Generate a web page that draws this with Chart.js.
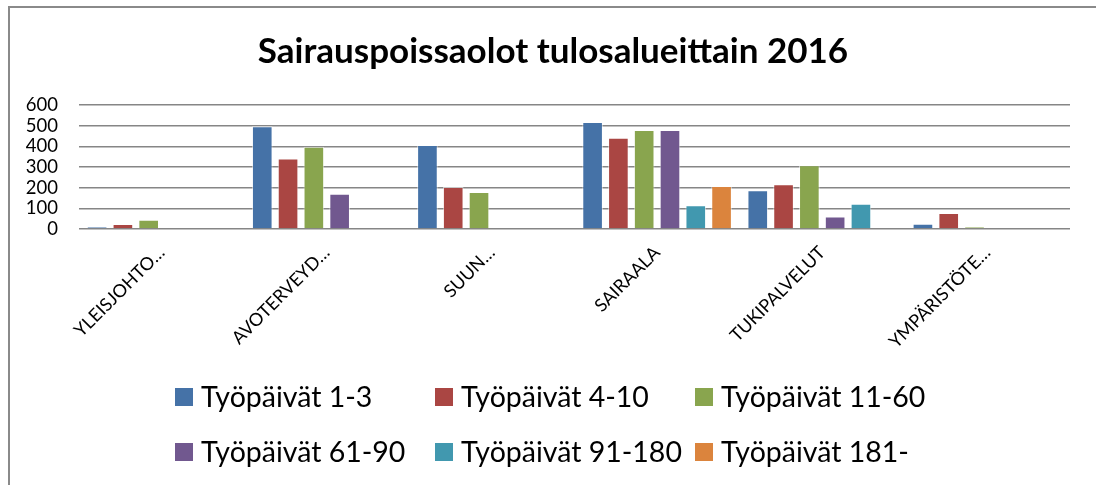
<!DOCTYPE html>
<html><head><meta charset="utf-8">
<script src="https://cdn.jsdelivr.net/npm/chart.js@4"></script>
<style>html,body{margin:0;padding:0;background:#fff;overflow:hidden}</style>
</head><body>
<canvas id="c" width="1096" height="485"></canvas>
<script>
const categories = ['YLEISJOHTO…', 'AVOTERVEYD…', 'SUUN…', 'SAIRAALA', 'TUKIPALVELUT', 'YMPÄRISTÖTE…'];
const seriesNames = ['Työpäivät 1-3', 'Työpäivät 4-10', 'Työpäivät 11-60', 'Työpäivät 61-90', 'Työpäivät 91-180', 'Työpäivät 181-'];
const days1to3    = [11, 497, 406, 518, 187, 26];
const days4to10   = [24, 341, 203, 441, 216, 78];
const days11to60  = [45, 398, 179, 479, 309, 11];
const days61to90  = [null, 171, null, 479, 61, null];
const days91to180 = [null, null, null, 115, 122, null];
const days181     = [null, null, null, 208, null, null];
const seriesValues = [days1to3, days4to10, days11to60, days61to90, days91to180, days181];
const seriesColors = ['#4572A7', '#AA4643', '#89A54E', '#71588F', '#4198AF', '#DB843D'];
const yMin = 0, yMax = 600, yStep = 100;
const titleText = 'Sairauspoissaolot tulosalueittain 2016';

const framePlugin = {
  id: 'frame',
  beforeDraw(chart) {
    const ctx = chart.ctx;
    ctx.save();
    ctx.fillStyle = '#fff';
    ctx.fillRect(0, 0, chart.width, chart.height);
    ctx.strokeStyle = '#8a8a8a';
    ctx.lineWidth = 2;
    ctx.strokeRect(9, 7, chart.width + 20, chart.height + 20);
    ctx.restore();
  }
};

const gridLegend = {
  id: 'gridLegend',
  afterDraw(chart) {
    const ctx = chart.ctx;
    const cols = 3, colW = 260, startX = 175, box = 18;
    const rowsY = [chart.height - 88, chart.height - 33];
    ctx.save();
    ctx.font = '28.5px Lato';
    ctx.textBaseline = 'middle';
    ctx.textAlign = 'left';
    chart.data.datasets.forEach((ds, i) => {
      const c = i % cols, r = Math.floor(i / cols);
      const x = startX + c * colW, y = rowsY[r];
      ctx.fillStyle = ds.backgroundColor;
      ctx.fillRect(x, y - box / 2, box, box);
      ctx.fillStyle = '#000';
      ctx.fillText(ds.label, x + 26, y + 1);
    });
    ctx.restore();
  }
};

new Chart(document.getElementById('c'), {
  type: 'bar',
  data: {
    labels: categories,
    datasets: seriesNames.map((name, i) => ({
      label: name,
      data: seriesValues[i],
      backgroundColor: seriesColors[i],
      borderColor: 'rgba(255,255,255,0.55)',
      borderWidth: 1,
      categoryPercentage: 0.937,
      barPercentage: 0.8
    }))
  },
  options: {
    responsive: false,
    animation: false,
    devicePixelRatio: 1,
    layout: { padding: { left: 10, right: 0, top: 0, bottom: 116 } },
    plugins: {
      legend: { display: false },
      tooltip: { enabled: false },
      title: {
        display: true,
        text: titleText,
        color: '#000',
        font: { family: 'Lato', size: 35, weight: 'bold' },
        padding: { top: 31, bottom: 32 }
      }
    },
    scales: {
      x: {
        grid: { display: false },
        border: { display: false },
        ticks: {
          color: '#000',
          font: { family: 'Lato', size: 18 },
          minRotation: 45, maxRotation: 45,
          autoSkip: false,
          padding: 5
        },
        afterFit(s) { s.height = 140; }
      },
      y: {
        min: yMin, max: yMax,
        border: { display: false },
        grid: { color: '#868686', lineWidth: 1.5, drawTicks: false },
        ticks: {
          stepSize: yStep,
          autoSkip: false,
          color: '#000',
          font: { family: 'Lato', size: 18.5 },
          padding: 21
        },
        afterFit(s) { s.width = 69; }
      },
      yRightSpace: {
        position: 'right',
        display: true,
        grid: { display: false, drawTicks: false },
        border: { display: false },
        ticks: { display: false },
        afterFit(s) { s.width = 26; }
      }
    }
  },
  plugins: [framePlugin, gridLegend]
});
</script>
</body></html>
